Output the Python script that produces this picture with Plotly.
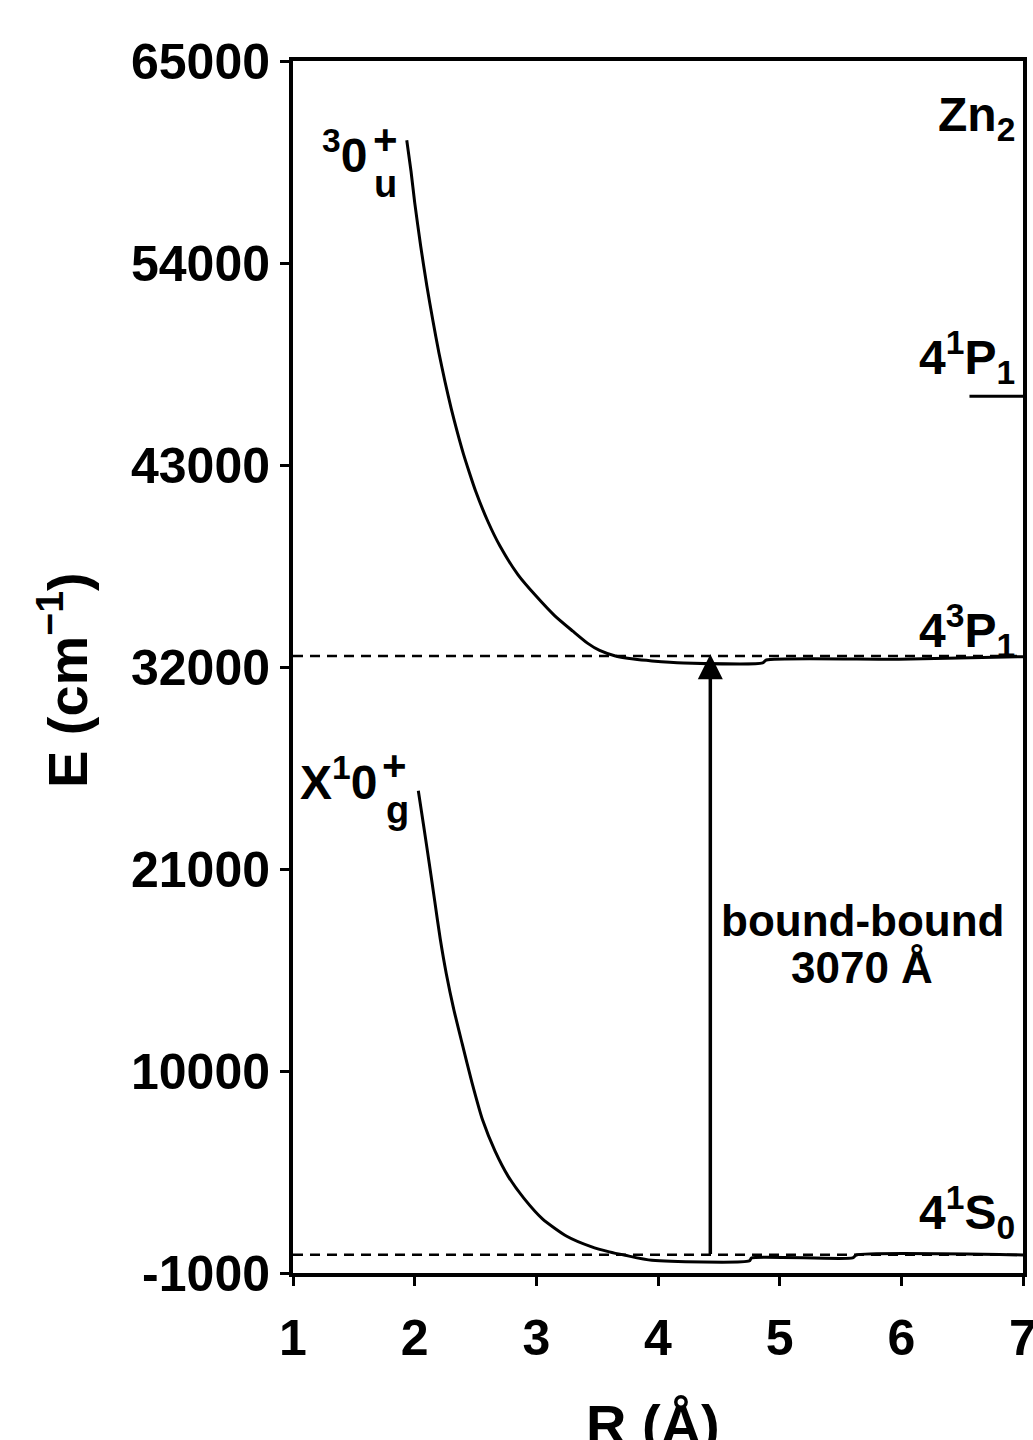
import plotly.graph_objects as go

# ---- data ----
R_upper = [1.935, 1.97, 2.00, 2.05, 2.10, 2.15, 2.20, 2.25, 2.30, 2.35, 2.40, 2.45, 2.50,
           2.60, 2.70, 2.85, 3.00, 3.15, 3.30, 3.42, 3.52, 3.65, 3.80, 3.95, 4.21, 4.86, 4.89,
           5.98, 7.0]
E_upper = [60680, 59000, 57300, 54900, 52760, 50850, 49090, 47520, 46080, 44800, 43620, 42580, 41600,
           39950, 38600, 37020, 35850, 34800, 33950, 33300, 32900, 32600, 32430, 32330, 32220, 32220, 32380,
           32420, 32560]

R_lower = [2.03, 2.075, 2.12, 2.165, 2.21, 2.26, 2.32, 2.39, 2.47, 2.56, 2.66, 2.77, 2.90,
           3.05, 3.25, 3.45, 3.60, 3.73, 3.95, 4.75, 4.77, 5.60, 5.63, 7.0]
E_lower = [25260, 23300, 21300, 19250, 17200, 15300, 13400, 11500, 9400, 7300, 5650, 4250, 3050,
           1950, 1000, 435, 150, -35, -310, -345, -180, -180, -20, -20]

R_range = [1, 7]
asym_levels = [0, 32600]          # 4 1S0 and 4 3P1 asymptotes (dashed)
P1_level = 46745                  # 4 1P1 level
P1_R = [6.56, 7.0]

arrow_R = 4.43
arrow_E = [-50, 32700]

x_ticks = [1, 2, 3, 4, 5, 6, 7]
y_ticks = [-1000, 10000, 21000, 32000, 43000, 54000, 65000]
y_ticktext = ["-1000", "10000", "21000", "32000", "43000", "54000", "65000"]

FONT = "Liberation Sans"

fig = go.Figure()

for lvl in asym_levels:
    fig.add_trace(go.Scatter(x=R_range, y=[lvl, lvl], mode="lines",
                             line=dict(color="black", width=2.5, dash="10px,7px"),
                             showlegend=False, hoverinfo="skip"))

fig.add_trace(go.Scatter(x=R_upper, y=E_upper, mode="lines",
                         line=dict(color="black", width=3, shape="spline", smoothing=0.6),
                         showlegend=False))
fig.add_trace(go.Scatter(x=R_lower, y=E_lower, mode="lines",
                         line=dict(color="black", width=3, shape="spline", smoothing=0.6),
                         showlegend=False))
fig.add_trace(go.Scatter(x=P1_R, y=[P1_level, P1_level], mode="lines",
                         line=dict(color="black", width=3), showlegend=False))

# transition arrow
fig.add_annotation(x=arrow_R, y=arrow_E[1], ax=arrow_R, ay=arrow_E[0],
                   xref="x", yref="y", axref="x", ayref="y",
                   text="", showarrow=True, arrowhead=2, arrowsize=1.43,
                   arrowwidth=3.5, arrowcolor="black", standoff=0, startstandoff=0)

def lab(text, x, y, size, xanchor="center", yanchor="middle"):
    fig.add_annotation(x=x, y=y, xref="x", yref="y", text=text, showarrow=False,
                       xanchor=xanchor, yanchor=yanchor,
                       font=dict(family=FONT, size=size, color="black", weight="bold"))

# state labels (left)
lab("<sup>3</sup>0", 1.222, 60045, 48, xanchor="left")
lab("+", 1.764, 60700, 42)
lab("u", 1.764, 58300, 38)
lab("X<sup>1</sup>0", 1.041, 25900, 48, xanchor="left")
lab("+", 1.838, 26660, 42)
lab("g", 1.855, 24210, 38)

# atomic asymptote labels (right)
lab("Zn<sub>2</sub>", 6.95, 61900, 48, xanchor="right")
lab("4<sup>1</sup>P<sub>1</sub>", 6.95, 48830, 48, xanchor="right")
lab("4<sup>3</sup>P<sub>1</sub>", 6.95, 34015, 48, xanchor="right")
lab("4<sup>1</sup>S<sub>0</sub>", 6.95, 2320, 48, xanchor="right")

lab("bound-bound", 5.677, 18220, 44)
lab("3070 Å", 5.677, 15610, 44)

# axis titles
fig.add_annotation(x=0.493, y=-0.1254, xref="paper", yref="paper", text="R (Å)",
                   showarrow=False, xanchor="center", yanchor="middle",
                   font=dict(family=FONT, size=56, color="black", weight="bold"))
fig.add_annotation(x=-0.3135, y=0.4893, xref="paper", yref="paper",
                   text="E (cm<sup>−1</sup>)", textangle=-90,
                   showarrow=False, xanchor="center", yanchor="middle",
                   font=dict(family=FONT, size=56, color="black", weight="bold"))

axis_common = dict(showline=True, linewidth=4, linecolor="black", mirror=True,
                   ticks="outside", ticklen=9, tickwidth=3, tickcolor="black",
                   showgrid=False, zeroline=False, automargin=False,
                   ticklabeloverflow="allow",
                   tickfont=dict(family=FONT, size=50, color="black", weight="bold"))

fig.update_xaxes(range=R_range, tickvals=x_ticks, ticklabelstandoff=9, **axis_common)
fig.update_yaxes(range=[-1000, 65000], tickvals=y_ticks, ticktext=y_ticktext,
                 ticklabelstandoff=0, **axis_common)

fig.update_layout(width=1033, height=1440,
                  margin=dict(l=293, r=10, t=61, b=167, autoexpand=False),
                  paper_bgcolor="white", plot_bgcolor="white",
                  showlegend=False)

fig.write_html("out.html")
